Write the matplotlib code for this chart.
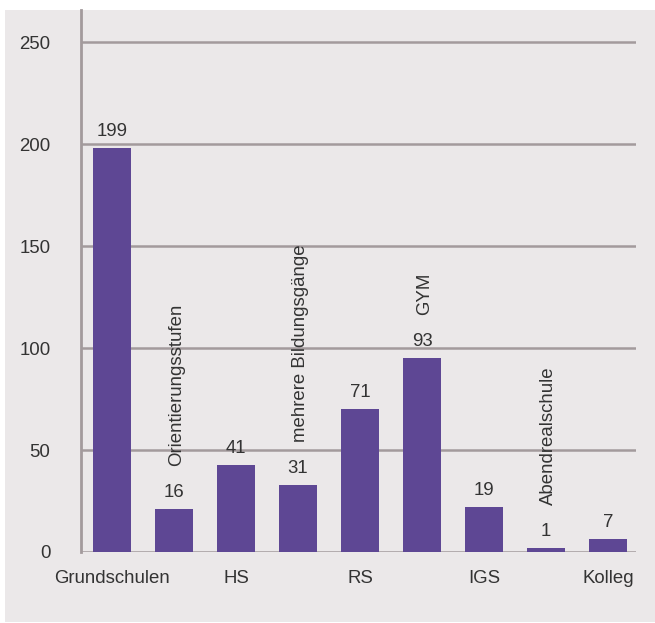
import matplotlib.pyplot as plt
from matplotlib.patches import Rectangle

plt.rcParams['font.family'] = ['Liberation Sans', 'DejaVu Sans']

# categories and values
categories = ['Grundschulen', 'Orientierungsstufen', 'HS', 'mehrere Bildungsgänge',
              'RS', 'GYM', 'IGS', 'Abendrealschule', 'Kolleg']
bar_heights = [198, 21, 42.6, 32.8, 70.1, 95.1, 22.1, 2.0, 6.4]   # as drawn
value_labels = ['199', '16', '41', '31', '71', '93', '19', '1', '7']
yticks = [0, 50, 100, 150, 200, 250]

bar_col = '#5e4794'
bg_col = '#ebe8e9'
grid_col = '#a39a9c'
txt_col = '#333333'
fs = 13.4

fig = plt.figure(figsize=(6.55, 6.23), dpi=100)
fig.patch.set_facecolor('white')
# grey panel behind the chart
fig.patches.append(Rectangle((5/655, 1/623), 650/655, 612/623, transform=fig.transFigure,
                             facecolor=bg_col, edgecolor='none', zorder=-10))

ax = fig.add_axes([81/655, 71/623, 555/655, 542/623])
ax.set_facecolor('none')

x = list(range(len(categories)))
ax.bar(x, bar_heights, width=0.61, color=bar_col, zorder=3)

for i in x:
    ax.annotate(value_labels[i], (i, bar_heights[i]), xytext=(0, 6), textcoords='offset points',
                ha='center', va='bottom', fontsize=fs, color=txt_col)
    if i % 2 == 1:
        ax.annotate(categories[i], (i, bar_heights[i]), xytext=(2, 31), textcoords='offset points',
                    ha='center', va='bottom', rotation=90, fontsize=fs, color=txt_col)

ax.set_xlim(-0.5, 8.45)
ax.set_ylim(0, 265.7)
ax.set_yticks(yticks)
ax.set_yticklabels([str(v) for v in yticks], fontsize=fs, color=txt_col)
ax.set_xticks(x[::2])
ax.set_xticklabels(categories[::2], fontsize=fs, color=txt_col)
ax.tick_params(axis='both', length=0)
ax.tick_params(axis='y', pad=22)
ax.tick_params(axis='x', pad=13)

for v in yticks:
    ax.axhline(v, color=grid_col, lw=1.8, zorder=1)

for s in ['top', 'right', 'bottom']:
    ax.spines[s].set_visible(False)
ax.spines['left'].set_color(grid_col)
ax.spines['left'].set_linewidth(2)

fig.savefig('out.png', dpi=100)
